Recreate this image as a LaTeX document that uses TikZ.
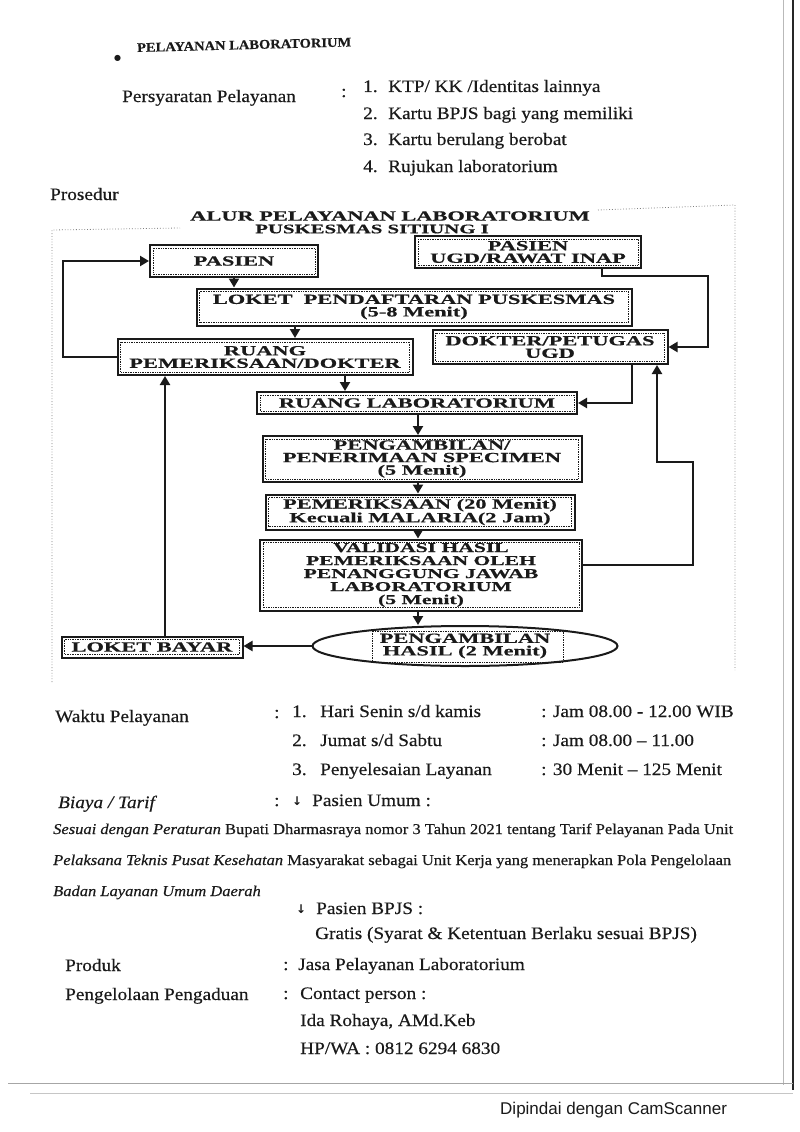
\documentclass[tikz,border=0pt]{standalone}
\usepackage{fontspec}
\setmainfont{Liberation Serif}[FakeStretch=1.1, FakeBold=0.4]
\newfontfamily\boxfont{Liberation Serif}[FakeStretch=1.6, FakeBold=0.6]
\newfontfamily\scanfont{Liberation Sans}
\newfontfamily\symfont{DejaVu Sans}
\usetikzlibrary{arrows.meta,shapes.geometric}
\definecolor{ink}{HTML}{1A1A1A}
\tikzset{
  fbox/.style={draw=ink, line width=2pt, fill=white, align=center, inner sep=1pt, text=ink,
    font=\boxfont\bfseries\fontsize{14}{12.5}\selectfont},
  conn/.style={draw=ink, line width=2.2pt},
  arr/.style={conn, -{Triangle[length=9pt,width=10pt]}},
  txt/.style={anchor=base west, inner sep=0pt, text=ink, font=\fontsize{17.5}{20}\selectfont},
  ptxt/.style={anchor=base west, inner sep=0pt, text=ink, font=\fontsize{15}{18}\selectfont},
  sym/.style={anchor=base west, inner sep=0pt, text=ink, font=\symfont\bfseries\fontsize{12}{14}\selectfont},
  ttlfont/.style={inner sep=0pt, text=ink, font=\boxfont\bfseries\fontsize{14}{13}\selectfont},
  innerframe/.style={draw=ink, densely dotted, line width=0.7pt},
  framedot/.style={draw=gray, dotted, line width=0.8pt},
}
\begin{document}
\begin{tikzpicture}[x=1pt,y=-1pt]
\fill[white] (0,0) rectangle (800,1132);
\useasboundingbox (0,0) rectangle (800,1132);

% scan edges
\draw[gray!55, line width=0.8pt] (783,0) -- (783,1085);
\draw[black!85, line width=1.6pt] (793,0) -- (793,1090);
\draw[gray!70, line width=1pt] (8,1083) -- (793,1083);
\draw[gray!45, line width=0.8pt] (30,1093) -- (793,1093);

% header
\node[txt, font=\symfont\fontsize{8}{10}\selectfont] (bul) at (114,61) {●};
\node[txt, font=\bfseries\fontsize{13.2}{15}\selectfont, rotate=1.5] (head) at (137,52) {PELAYANAN LABORATORIUM};

\node[txt] (psy) at (122,102) {Persyaratan Pelayanan};
\node[txt] (psyc) at (341,97) {:};
\node[txt] (n1) at (363,92) {1.};
\node[txt] (r1) at (388,92) {KTP/ KK /Identitas lainnya};
\node[txt] (n2) at (363,119) {2.};
\node[txt] (r2) at (388,119) {Kartu BPJS bagi yang memiliki};
\node[txt] (n3) at (363,145) {3.};
\node[txt] (r3) at (388,145) {Kartu berulang berobat};
\node[txt] (n4) at (363,172) {4.};
\node[txt] (r4) at (388,172) {Rujukan laboratorium};
\node[txt] (pros) at (50,200) {Prosedur};

% diagram frame
\draw[framedot] (52,682) -- (52,230) -- (180,228);
\draw[framedot] (598,210) -- (735,205) -- (735,670);

\node[ttlfont] (ttl1) at (390,216) {ALUR PELAYANAN LABORATORIUM};
\node[ttlfont, font=\boxfont\bfseries\fontsize{13}{13}\selectfont] (ttl2) at (372,229) {PUSKESMAS SITIUNG I};

% boxes
\node[fbox, minimum width=168pt, minimum height=32pt] (pasien) at (234,261) {PASIEN};
\node[fbox, minimum width=226pt, minimum height=32pt] (ugd) at (528,252) {PASIEN\\UGD/RAWAT INAP};
\node[fbox, minimum width=435pt, minimum height=37pt] (loket) at (414,307) {LOKET\ \ PENDAFTARAN PUSKESMAS\\(5-8 Menit)};
\node[fbox, minimum width=295pt, minimum height=36pt] (ruang) at (265,357) {RUANG\\PEMERIKSAAN/DOKTER};
\node[fbox, minimum width=235pt, minimum height=34pt] (dokter) at (550,347) {DOKTER/PETUGAS\\UGD};
\node[fbox, minimum width=320pt, minimum height=22pt] (lab) at (417,403) {RUANG LABORATORIUM};
\node[fbox, minimum width=319pt, minimum height=46pt, font=\boxfont\bfseries\fontsize{14}{12.5}\selectfont] (ambil) at (422,459) {PENGAMBILAN/\\PENERIMAAN SPECIMEN\\(5 Menit)};
\node[fbox, minimum width=309pt, minimum height=35pt] (periksa) at (420,512) {PEMERIKSAAN (20 Menit)\\Kecuali MALARIA(2 Jam)};
\node[fbox, minimum width=322pt, minimum height=71pt, font=\boxfont\bfseries\fontsize{13.5}{13}\selectfont] (valid) at (421,575) {VALIDASI HASIL\\PEMERIKSAAN OLEH\\PENANGGUNG JAWAB\\LABORATORIUM\\(5 Menit)};
\node[fbox, ellipse, inner sep=0pt, minimum width=305pt, minimum height=40pt] (hasil) at (465,646) {PENGAMBILAN\\HASIL (2 Menit)};
\node[fbox, minimum width=181pt, minimum height=21pt] (bayar) at (152,647) {LOKET BAYAR};

\foreach \n in {pasien,ugd,loket,ruang,dokter,lab,ambil,periksa,valid,bayar}
  \draw[innerframe] ([shift={(4,4)}]\n.north west) rectangle ([shift={(-4,-4)}]\n.south east);
\draw[innerframe] ([shift={(-93,-15)}]hasil.center) rectangle ([shift={(98,16)}]hasil.center);

% connector x positions
\coordinate (xa) at (295,0);
\coordinate (xb) at (345,0);
\coordinate (xl) at (63,0);
\coordinate (xu) at (602,0);
\coordinate (u1) at (708,276);
\coordinate (xd) at (632,0);
\coordinate (xm) at (418,0);
\coordinate (v2) at (693,462);
\coordinate (xv) at (657,0);
\coordinate (xp) at (165,0);

\draw[arr] (pasien.south) -- (pasien.south |- loket.north);
\draw[arr] (loket.south -| xa) -- (ruang.north -| xa);
\draw[arr] (ruang.south -| xb) -- (lab.north -| xb);
\draw[arr] (ruang.west) -- (ruang.west -| xl) |- (pasien.west);
\draw[arr] (ugd.south -| xu) |- (u1) |- (dokter.east);
\draw[arr] (dokter.south -| xd) |- (lab.east);
\draw[arr] (lab.south -| xm) -- (ambil.north -| xm);
\draw[arr] (ambil.south -| xm) -- (periksa.north -| xm);
\draw[arr] (periksa.south -| xm) -- (valid.north -| xm);
\draw[arr] (valid.south -| xm) -- (hasil.north -| xm);
\draw[arr] ([yshift=10pt]valid.east) -| (v2) -| (dokter.south -| xv);
\draw[arr] (hasil.west) -- (hasil.west -| bayar.east);
\draw[arr] (bayar.north -| xp) -- (ruang.south -| xp);

% lower text
\node[txt] (wak) at (55,722) {Waktu Pelayanan};
\node[txt] (wakc) at (274,718) {:};
\node[txt] (w1n) at (292,717) {1.};
\node[txt] (w1) at (320,717) {Hari Senin s/d kamis};
\node[txt] (w1t) at (541,717) {: Jam 08.00 - 12.00 WIB};
\node[txt] (w2n) at (292,746) {2.};
\node[txt] (w2) at (320,746) {Jumat s/d Sabtu};
\node[txt] (w2t) at (541,746) {: Jam 08.00 – 11.00};
\node[txt] (w3n) at (292,775) {3.};
\node[txt] (w3) at (320,775) {Penyelesaian Layanan};
\node[txt] (w3t) at (541,775) {: 30 Menit – 125 Menit};

\node[txt] (bia) at (58,808) {\itshape Biaya / Tarif};
\node[txt] (biac) at (274,806) {:};
\node[sym] (ar1) at (292,805) {↓};
\node[txt] (pu) at (312,806) {Pasien Umum :};

\node[ptxt] (p1) at (53,834) {\textit{Sesuai dengan Peraturan} Bupati Dharmasraya nomor 3 Tahun 2021 tentang Tarif Pelayanan Pada Unit};
\node[ptxt] (p2) at (53,865) {\textit{Pelaksana Teknis Pusat Kesehatan} Masyarakat sebagai Unit Kerja yang menerapkan Pola Pengelolaan};
\node[ptxt] (p3) at (53,896) {\textit{Badan Layanan Umum Daerah}};

\node[sym] (ar2) at (296,913) {↓};
\node[txt] (pb) at (316,914) {Pasien BPJS :};
\node[txt] (gr) at (315,939) {Gratis (Syarat \& Ketentuan Berlaku sesuai BPJS)};

\node[txt] (prod) at (65,971) {Produk};
\node[txt] (prodc) at (283,970) {:};
\node[txt] (jasa) at (298,970) {Jasa Pelayanan Laboratorium};
\node[txt] (peng) at (65,1000) {Pengelolaan Pengaduan};
\node[txt] (pengc) at (283,999) {:};
\node[txt] (cp) at (300,999) {Contact person :};
\node[txt] (ida) at (300,1026) {Ida Rohaya, AMd.Keb};
\node[txt] (hp) at (300,1054) {HP/WA : 0812 6294 6830};

\node[anchor=base west, inner sep=0pt, font=\scanfont\fontsize{17}{20}\selectfont, text=ink] (cam) at (500,1114) {Dipindai dengan CamScanner};
\end{tikzpicture}
\end{document}
